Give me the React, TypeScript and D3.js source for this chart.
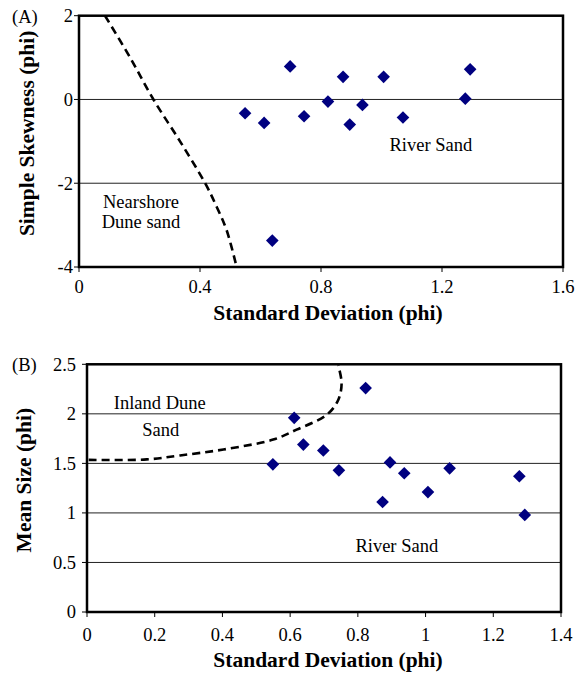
import React from 'react';
import * as d3 from 'd3';

// sample values shared by both panels (standard deviation, phi)
const sdPhi = [0.549, 0.612, 0.639, 0.698, 0.744, 0.823, 0.873, 0.895, 0.937, 1.007, 1.071, 1.277, 1.293];
const skewPhi = [-0.33, -0.56, -3.37, 0.79, -0.4, -0.05, 0.54, -0.6, -0.13, 0.54, -0.43, 0.02, 0.72];
const meanPhi = [1.49, 1.96, 1.69, 1.63, 1.43, 2.26, 1.11, 1.51, 1.4, 1.21, 1.45, 1.37, 0.98];

// boundary curves
const nearshoreSd = [0.086, 0.169, 0.246, 0.334, 0.417, 0.455, 0.488, 0.521];
const nearshoreSkew = [2, 1, 0, -1, -2, -2.56, -3.12, -4];
const inlandSd = [0.005, 0.176, 0.275, 0.403, 0.55, 0.619, 0.708, 0.742, 0.752, 0.742];
const inlandMean = [1.535, 1.54, 1.58, 1.64, 1.74, 1.84, 1.99, 2.14, 2.31, 2.49];

const xTicksA = [0, 0.4, 0.8, 1.2, 1.6];
const yTicksA = [-4, -2, 0, 2];
const xTicksB = [0, 0.2, 0.4, 0.6, 0.8, 1, 1.2, 1.4];
const yTicksB = [0, 0.5, 1, 1.5, 2, 2.5];

const FONT = "'Liberation Serif', 'DejaVu Serif', 'Times New Roman', Times, serif";
const MARK = '#000080';

const diamond = d3.symbol(d3.symbolSquare, 80)();

const Panel = ({ tag, box, xDomain, yDomain, xTicks, yTicks, xs, ys, cx, cy, yTitle, yTitleX, yLabelGap, xLabelGap, xTitleY, notes }) => {
  const x = d3.scaleLinear().domain(xDomain).range([box.left, box.right]);
  const y = d3.scaleLinear().domain(yDomain).range([box.bottom, box.top]);
  const line = d3.line().x((d) => x(d[0])).y((d) => y(d[1])).curve(d3.curveCatmullRom);
  const curvePts = cx.map((v, i) => [v, cy[i]]);

  return (
    <g style={{ fontFamily: FONT }}>
      {yTicks.map((t) => (
        <g key={t}>
          <line x1={box.left} x2={box.right} y1={y(t)} y2={y(t)} stroke="#222" strokeWidth={1} />
          <line x1={box.left - 5} x2={box.left} y1={y(t)} y2={y(t)} stroke="#000" strokeWidth={1} />
          <text x={box.left - yLabelGap} y={y(t)} dy="0.35em" textAnchor="end" fontSize={18.5}>
            {t}
          </text>
        </g>
      ))}
      {xTicks.map((t) => (
        <g key={t}>
          <line x1={x(t)} x2={x(t)} y1={box.bottom} y2={box.bottom + 5} stroke="#000" strokeWidth={1} />
          <text x={x(t)} y={box.bottom + xLabelGap} textAnchor="middle" fontSize={18.5}>
            {t}
          </text>
        </g>
      ))}
      <rect
        x={box.left}
        y={box.top}
        width={box.right - box.left}
        height={box.bottom - box.top}
        fill="none"
        stroke="#000"
        strokeWidth={2.5}
      />
      <path d={line(curvePts)} fill="none" stroke="#000" strokeWidth={2.6} strokeDasharray="8 5" />
      {xs.map((v, i) => (
        <path key={i} d={diamond} transform={`translate(${x(v)},${y(ys[i])}) rotate(45)`} fill={MARK} />
      ))}
      {notes.map((n, i) => (
        <text key={i} x={x(n.x)} y={y(n.y)} textAnchor="middle" fontSize={18.5}>
          {n.text}
        </text>
      ))}
      <text x={12} y={box.top + 7} fontSize={18.5}>
        {tag}
      </text>
      <text
        transform={`translate(${yTitleX},${(box.top + box.bottom) / 2 - 8}) rotate(-90)`}
        textAnchor="middle"
        fontSize={21.5}
        fontWeight="bold"
      >
        {yTitle}
      </text>
      <text x={328} y={xTitleY} textAnchor="middle" fontSize={21.5} fontWeight="bold">
        Standard Deviation (phi)
      </text>
    </g>
  );
};

export default function App() {
  return (
    <svg width={586} height={679} style={{ position: 'absolute', left: 0, top: 0, background: '#fff' }}>
      <Panel
        tag="(A)"
        box={{ left: 79, right: 563, top: 15.7, bottom: 267 }}
        xDomain={[0, 1.6]}
        yDomain={[-4, 2]}
        xTicks={xTicksA}
        yTicks={yTicksA}
        xs={sdPhi}
        ys={skewPhi}
        cx={nearshoreSd}
        cy={nearshoreSkew}
        yTitle="Simple Skewness (phi)"
        yTitleX={34}
        yLabelGap={6}
        xLabelGap={26}
        xTitleY={320}
        notes={[
          { x: 1.163, y: -1.24, text: 'River Sand' },
          { x: 0.205, y: -2.6, text: 'Nearshore' },
          { x: 0.205, y: -3.08, text: 'Dune sand' },
        ]}
      />
      <Panel
        tag="(B)"
        box={{ left: 87, right: 561, top: 364.3, bottom: 612 }}
        xDomain={[0, 1.4]}
        yDomain={[0, 2.5]}
        xTicks={xTicksB}
        yTicks={yTicksB}
        xs={sdPhi}
        ys={meanPhi}
        cx={inlandSd}
        cy={inlandMean}
        yTitle="Mean Size (phi)"
        yTitleX={31}
        yLabelGap={11}
        xLabelGap={29}
        xTitleY={667}
        notes={[
          { x: 0.915, y: 0.61, text: 'River Sand' },
          { x: 0.215, y: 2.05, text: 'Inland Dune' },
          { x: 0.218, y: 1.78, text: 'Sand' },
        ]}
      />
    </svg>
  );
}
